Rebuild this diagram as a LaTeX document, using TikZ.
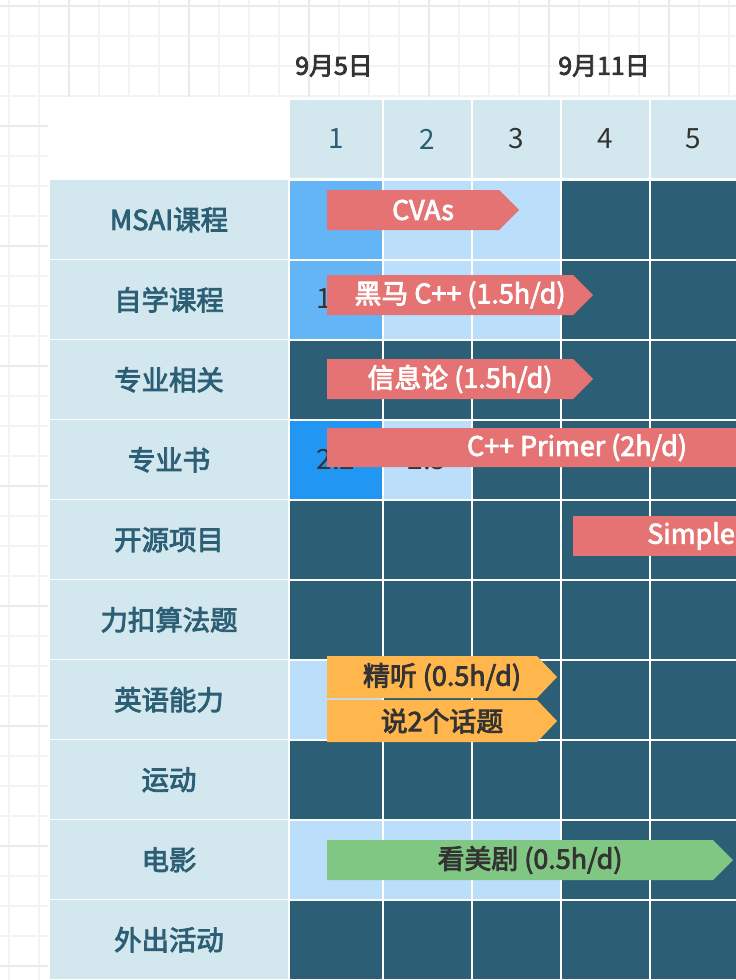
\documentclass[tikz,border=0pt]{standalone}
\usepackage{fontspec}
\setmainfont{Noto Sans CJK SC}
\newfontfamily\medfont[FakeBold=3]{Noto Sans CJK SC}
\usetikzlibrary{positioning}

\definecolor{sheetgrid}{HTML}{F3F3F3}
\definecolor{sheetgridmajor}{HTML}{EAEAEA}
\definecolor{headbg}{HTML}{D3E7EE}
\definecolor{deepteal}{HTML}{2C5F75}
\definecolor{midblue}{HTML}{64B5F6}
\definecolor{paleblue}{HTML}{BBDEFB}
\definecolor{brightblue}{HTML}{2196F3}
\definecolor{barred}{HTML}{E57373}
\definecolor{barorange}{HTML}{FFB74D}
\definecolor{bargreen}{HTML}{81C784}
\definecolor{inkgrey}{HTML}{333333}

\begin{document}
\begin{tikzpicture}[
		x=1bp, y=-1bp,
		minorline/.style={sheetgrid, line width=1.5bp},
		majorline/.style={sheetgridmajor, line width=2bp},
		rowlabel/.style={text=deepteal, font=\fontsize{27.5}{31}\medfont},
		daylabel/.style={font=\fontsize{28}{32}\selectfont},
		datelabel/.style={text=inkgrey, font=\fontsize{25}{28}\medfont},
		cellnote/.style={text=inkgrey, font=\fontsize{28}{32}\selectfont},
		bartext/.style={font=\fontsize{27}{30}\medfont, inner sep=0pt}
		]
		
		% Draw the sheet grid behind the table
		\useasboundingbox (0,0) rectangle (736,980);
		\fill[white] (0,0) rectangle (736,980);
		\foreach \x in {9,39,...,729} \draw[minorline] (\x,0) -- (\x,980);
		\foreach \y in {6,36,...,966} \draw[minorline] (0,\y) -- (736,\y);
		\foreach \x in {69,189,...,669} \draw[majorline] (\x,0) -- (\x,980);
		\foreach \y in {6,126,...,966} \draw[majorline] (0,\y) -- (736,\y);
		
		% Dates above the day columns
		\node[datelabel] (sep5) at (334,66) {9月5日};
		\node[datelabel] (sep11) at (604,66) {9月11日};
		
		% Table backdrop
		\fill[white] (48,97) rectangle (736,980);
		
		% Day header
		\foreach \c/\xa/\xb/\tc in {1/290/382/deepteal, 2/384/471/deepteal, 3/473/560/inkgrey, 4/562/649/inkgrey, 5/651/736/inkgrey} {
			\fill[headbg] (\xa,100) rectangle (\xb,178);
			\node[daylabel, text=\tc] (day\c) at ({(\xa+\xb)/2},139) {\c};
		}
		
		% Task rows and their day cells
		\foreach \r/\name/\ca/\cb/\cc/\cd/\ce in {
			1/MSAI课程/midblue/paleblue/paleblue/deepteal/deepteal,
			2/自学课程/midblue/paleblue/paleblue/deepteal/deepteal,
			3/专业相关/deepteal/deepteal/deepteal/deepteal/deepteal,
			4/专业书/brightblue/paleblue/deepteal/deepteal/deepteal,
			5/开源项目/deepteal/deepteal/deepteal/deepteal/deepteal,
			6/力扣算法题/deepteal/deepteal/deepteal/deepteal/deepteal,
			7/英语能力/paleblue/deepteal/deepteal/deepteal/deepteal,
			8/运动/deepteal/deepteal/deepteal/deepteal/deepteal,
			9/电影/paleblue/paleblue/paleblue/deepteal/deepteal,
			10/外出活动/deepteal/deepteal/deepteal/deepteal/deepteal} {
			\pgfmathsetmacro{\ya}{181+80*(\r-1)}
			\pgfmathsetmacro{\yb}{\ya+77.5}
			\fill[headbg] (50,{\ya-1}) rectangle (288,\yb);
			\node[rowlabel] (task\r) at (169,{(\ya+\yb)/2}) {\name};
			\foreach \xa/\xb/\col in {290/382/\ca, 384/471/\cb, 473/560/\cc, 562/649/\cd, 651/736/\ce}
				\fill[\col] (\xa,\ya) rectangle (\xb,\yb);
		}
		
		% Cell notes, mostly hidden by the bars
		\node[cellnote] (note11) at (336,299) {1.1};
		\node[cellnote] (note22) at (336,460) {2.2};
		\node[cellnote] (note23) at (427,460) {2.3};
		
		% Plan bars
		\foreach \n/\ya/\yb/\xa/\xb/\fc/\tc/\txt in {
			cvas/190/230/327/519/barred/white/{CVAs},
			heima/275/315/327/593/barred/white/{黑马 C++ (1.5h/d)},
			xinxi/359/399/327/593/barred/white/{信息论 (1.5h/d)},
			primer/428/467/327/827/barred/white/{C++ Primer (2h/d)},
			jingting/656/698/327/557/barorange/inkgrey/{精听 (0.5h/d)},
			shuo/700/742/327/557/barorange/inkgrey/{说2个话题},
			meiju/840/880/327/733/bargreen/inkgrey/{看美剧 (0.5h/d)}} {
			\fill[\fc] (\xa,\ya) -- ({\xb-20},\ya) -- (\xb,{(\ya+\yb)/2}) -- ({\xb-20},\yb) -- (\xa,\yb) -- cycle;
			\node[bartext, text=\tc] (\n) at ({(\xa+\xb)/2},{(\ya+\yb)/2}) {\txt};
		}
		\fill[barred] (573,516) rectangle (760,556);
		\node[bartext, text=white, anchor=east] (simple) at (735,536) {Simple};
		
	\end{tikzpicture}
\end{document}
